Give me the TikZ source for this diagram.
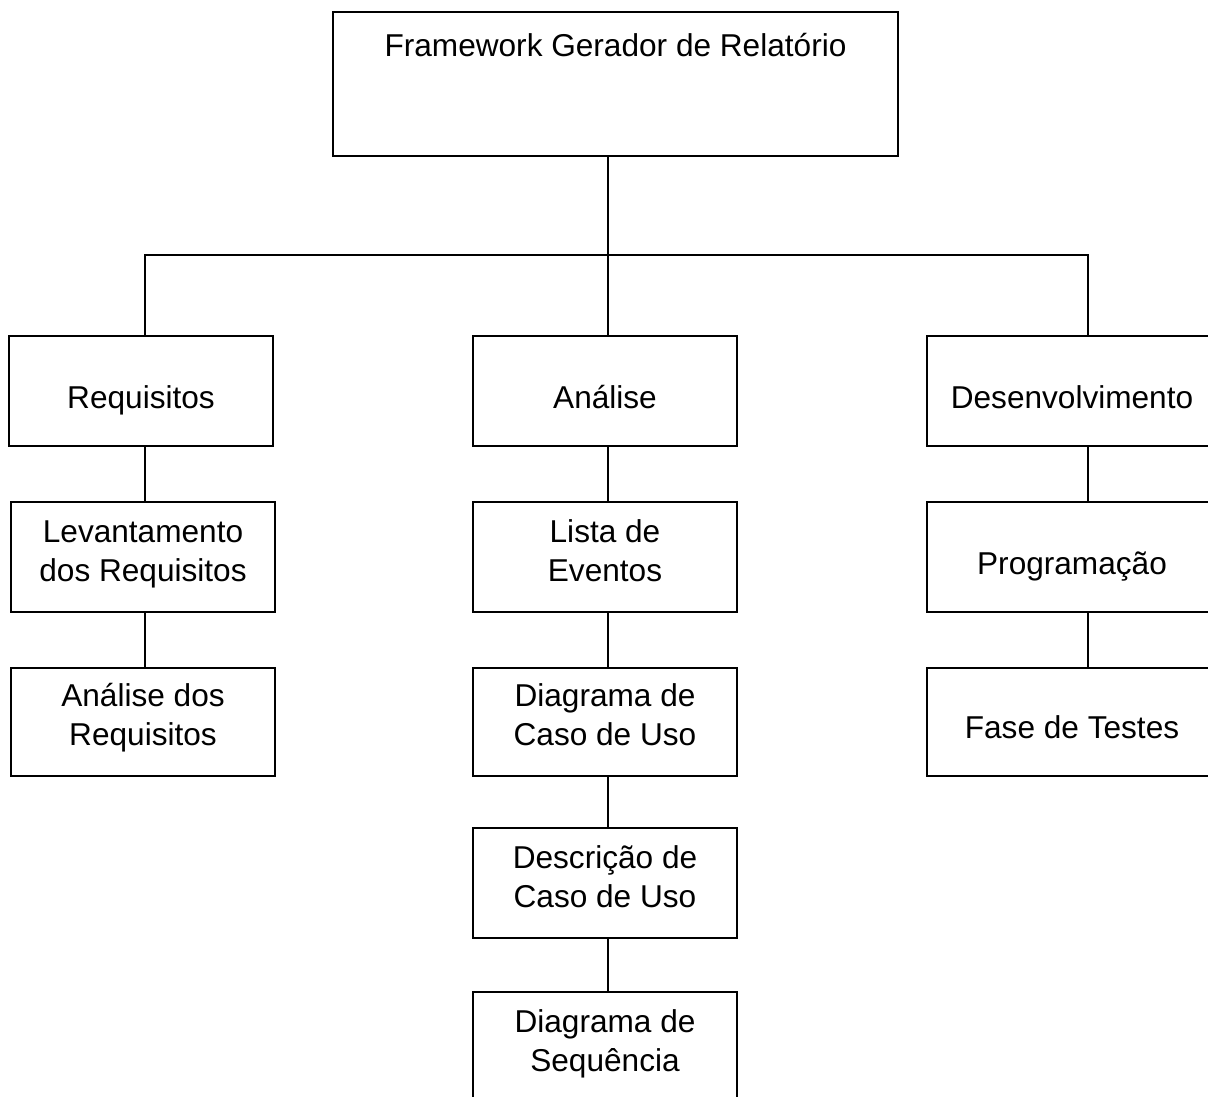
\documentclass[tikz,border=0pt]{standalone}
\usepackage{fontspec}
\setmainfont{Liberation Sans}
\begin{document}
\begin{tikzpicture}[x=1pt,y=-1pt,
  every node/.style={font=\fontsize{31.6}{39}\selectfont},
  box/.style={draw, line width=1.6pt, rectangle, inner sep=0pt, anchor=north,
    minimum width=264, align=center},
  wide/.style={box, minimum width=290},
  % single line: baseline 73 below the top edge
  oneline/.style={text height=73, text depth=37},
  % two lines: last baseline 80 below the top edge
  twoline/.style={text height=80, text depth=30},
  link/.style={line width=1.6pt}]
\clip (0,0) rectangle (1208,1097);
\fill[white] (0,0) rectangle (1208,1097);

% root
\node[draw, line width=1.6pt, inner sep=0pt, anchor=north,
  minimum width=565, text height=45, text depth=99] (root) at (615.5,11)
  {Framework Gerador de Relatório};

% first column
\node[box, oneline] (req) at (141,335) {Requisitos};
\node[box, twoline] (lev) at (143,501) {Levantamento\\dos Requisitos};
\node[box, text height=78, text depth=30] (areq) at (143,667) {Análise dos\\Requisitos};

% middle column
\node[box, oneline] (ana) at (605,335) {Análise};
\node[box, twoline] (lis) at (605,501) {Lista de\\Eventos};
\node[box, text height=78, text depth=30] (dcu) at (605,667) {Diagrama de\\Caso de Uso};
\node[box, twoline] (desc) at (605,827) {Descrição de\\Caso de Uso};
\node[box, twoline] (seq) at (605,991) {Diagrama de\\Sequência};

% right column
\node[wide, oneline] (dev) at (1072,335) {Desenvolvimento};
\node[wide, oneline] (prog) at (1072,501) {Programação};
\node[wide, text height=71, text depth=37] (test) at (1072,667) {Fase de Testes};

% branching
\coordinate (hub) at (608,255);
\draw[link] (root.south -| hub) -- (hub);
\draw[link] ([xshift=4]req.north) |- (hub) -| ([xshift=3]ana.north);
\draw[link] (hub) -| ([xshift=16]dev.north);

% vertical connectors
\draw[link] ([xshift=4]req.south) -- ([xshift=2]lev.north);
\draw[link] ([xshift=2]lev.south) -- ([xshift=2]areq.north);
\draw[link] ([xshift=3]ana.south) -- ([xshift=3]lis.north);
\draw[link] ([xshift=3]lis.south) -- ([xshift=3]dcu.north);
\draw[link] ([xshift=3]dcu.south) -- ([xshift=3]desc.north);
\draw[link] ([xshift=3]desc.south) -- ([xshift=3]seq.north);
\draw[link] ([xshift=16]dev.south) -- ([xshift=16]prog.north);
\draw[link] ([xshift=16]prog.south) -- ([xshift=16]test.north);
\end{tikzpicture}
\end{document}
